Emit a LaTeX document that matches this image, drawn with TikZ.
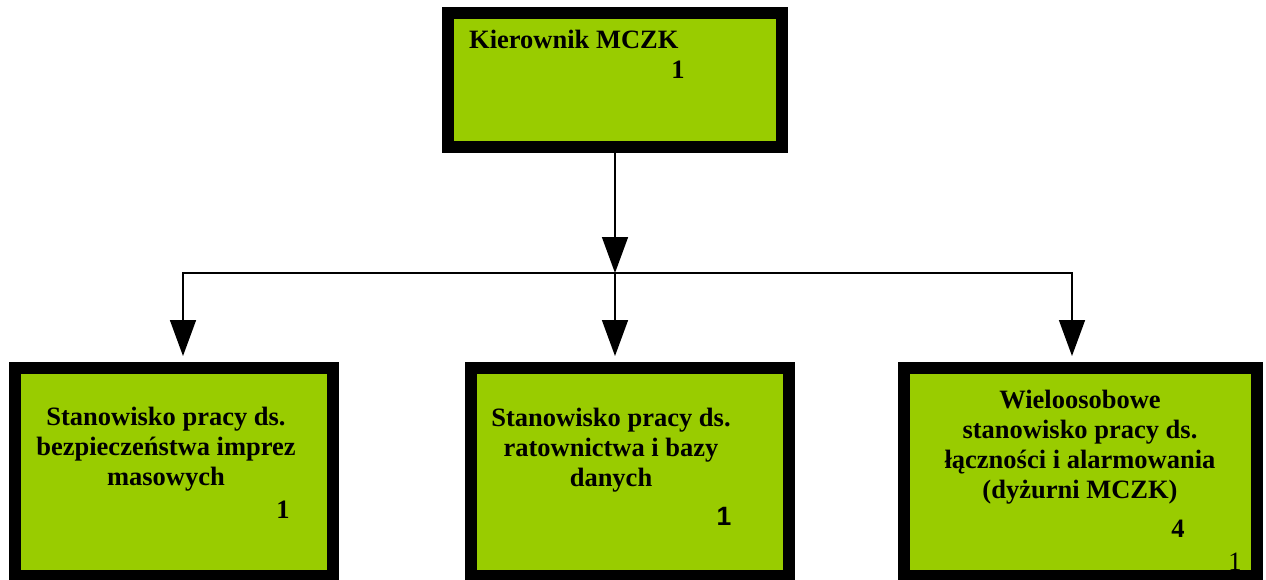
\documentclass[tikz,border=0pt]{standalone}
\usepackage{fontspec}
\setmainfont{Liberation Serif}
\newfontfamily\numfont{Liberation Sans}
\usepackage{xcolor}
\usepackage{tikz}
\usetikzlibrary{arrows.meta}
\usetikzlibrary{positioning}
\definecolor{boxgreen}{RGB}{153,204,0}

\begin{document}
\begin{tikzpicture}[x=1pt, y=-1pt]
\tikzset{BoxStyle/.style = {shape=rectangle, draw=black, fill=boxgreen, line width=12pt, inner sep=0pt}}
\tikzset{TextStyle/.style = {font=\fontsize{26.5}{30}\selectfont\bfseries, align=center, inner sep=0pt}}
\tikzset{EdgeStyle/.style = {-{Triangle[length=36pt, width=26pt]}, line width=1.6pt}}
	\useasboundingbox (0,0) rectangle (1266,579);
	% boxes
	\node[BoxStyle, minimum width=334pt, minimum height=134pt] (kier) at (615,80) {};
	\node[BoxStyle, minimum width=318pt, minimum height=208pt] (bezp) at (174,472) {};
	\node[BoxStyle, minimum width=318pt, minimum height=208pt] (rat) at (630,472) {};
	\node[BoxStyle, minimum width=353pt, minimum height=208pt] (lacz) at (1080.5,472) {};
	% texts (base = last line)
	\node[TextStyle, anchor=base west] (kiert) at (469,48) {Kierownik MCZK};
	\node[TextStyle, anchor=base] (kiern) at (678,78) {1};
	\node[TextStyle, anchor=base] (bezpt) at (166,485) {Stanowisko pracy ds.\\ bezpieczeństwa imprez\\ masowych};
	\node[TextStyle, anchor=base] (bezpn) at (283,518) {1};
	\node[TextStyle, anchor=base] (ratt) at (611,486) {Stanowisko pracy ds.\\ ratownictwa i bazy\\ danych};
	\node[TextStyle, font=\fontsize{26.5}{30}\selectfont\numfont\bfseries, anchor=base] (ratn) at (724,525) {1};
	\node[TextStyle, anchor=base] (laczt) at (1080,498) {Wieloosobowe\\ stanowisko pracy ds.\\ łączności i alarmowania\\ (dyżurni MCZK)};
	\node[TextStyle, anchor=base] (laczn) at (1178,537) {4};
	\node[TextStyle, font=\fontsize{26.5}{30}\selectfont, anchor=base] (laczm) at (1235,570) {1};
	% connectors
	\coordinate (split) at (615,273);
	\draw[EdgeStyle] (kier) -- (split);
	\draw[EdgeStyle, shorten >=6pt] (split) -| ([xshift=9pt]bezp.north);
	\draw[EdgeStyle, shorten >=6pt] (split) -- (rat.north -| split);
	\draw[EdgeStyle, shorten >=6pt] (split) -| ([xshift=-8.5pt]lacz.north);
\end{tikzpicture}
\end{document}
